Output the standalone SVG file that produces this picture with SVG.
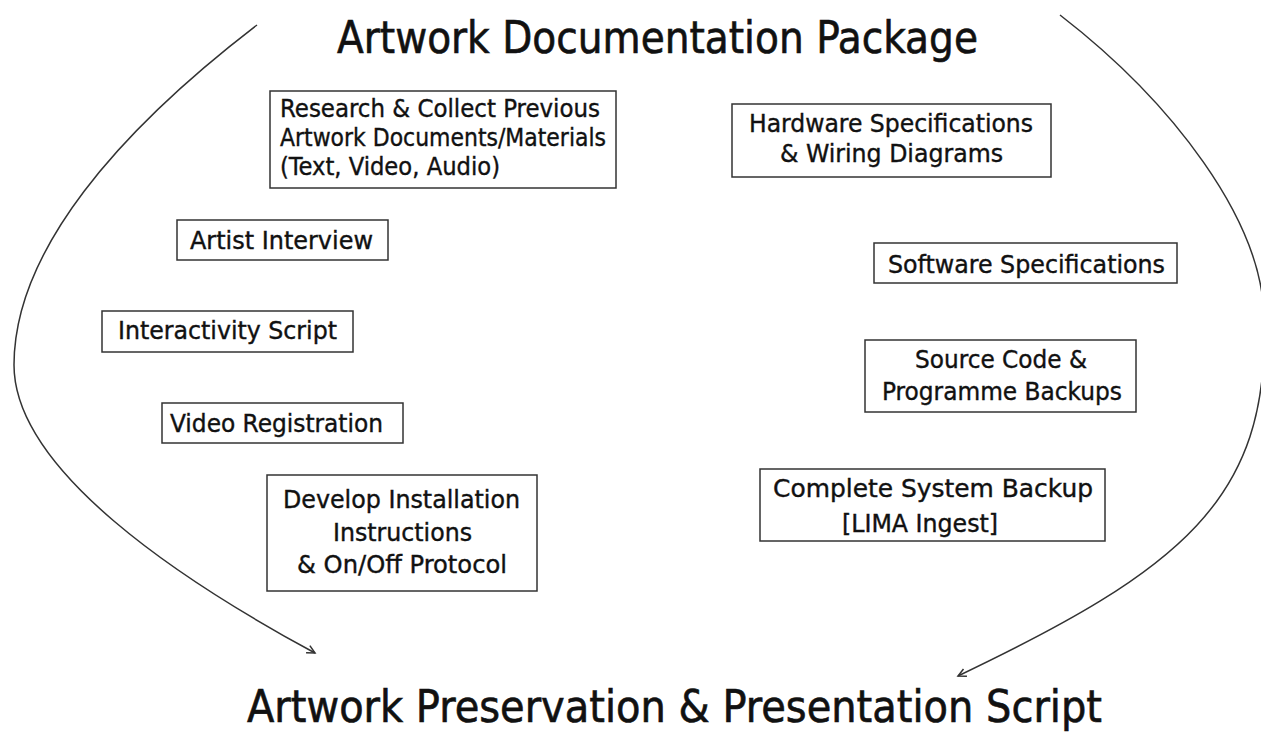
<svg xmlns="http://www.w3.org/2000/svg" width="1261" height="733" viewBox="0 0 1261 733">
  <style>
    .title { font-family: "DejaVu Sans Condensed", "DejaVu Sans", sans-serif; font-size: 45px; fill: #111; stroke: #111; stroke-width: 0.6; }
    .label { font-family: "DejaVu Sans Condensed", "DejaVu Sans", sans-serif; font-size: 24px; fill: #111; stroke: #111; stroke-width: 0.35; }
    .box { fill: #fff; stroke: #333; stroke-width: 1.5; }
    .flow { fill: none; stroke: #333; stroke-width: 1.5; }
  </style>
  <defs>
    <marker id="chevron" markerUnits="userSpaceOnUse" markerWidth="12" markerHeight="12" refX="9" refY="5" orient="auto">
      <path d="M1,1 L9,5 L1,9" fill="none" stroke="#333" stroke-width="1.5"/>
    </marker>
  </defs>

  <rect width="1261" height="733" fill="#fff"/>

  <!-- headings -->
  <g id="package-title">
    <text class="title" x="337" y="53" textLength="641" lengthAdjust="spacingAndGlyphs">Artwork Documentation Package</text>
  </g>
  <g id="script-title">
    <text class="title" x="247" y="722" textLength="855" lengthAdjust="spacingAndGlyphs">Artwork Preservation &amp; Presentation Script</text>
  </g>

  <!-- sweeping arrows from the package to the script -->
  <g id="connectors">
    <path class="flow" d="M257,25 C120,130 14,250 14,365 C14,470 180,580 315,653" marker-end="url(#chevron)"/>
    <path class="flow" d="M1060,15 C1170,100 1264,220 1264,320 C1270,500 1180,570 958,676" marker-end="url(#chevron)"/>
  </g>

  <!-- left column -->
  <g id="research">
    <rect class="box" x="270" y="91" width="346" height="97"/>
    <text class="label" x="280" y="117" textLength="320" lengthAdjust="spacingAndGlyphs">Research &amp; Collect Previous</text>
    <text class="label" x="280" y="146" textLength="326" lengthAdjust="spacingAndGlyphs">Artwork Documents/Materials</text>
    <text class="label" x="280" y="175" textLength="220" lengthAdjust="spacingAndGlyphs">(Text, Video, Audio)</text>
  </g>
  <g id="artist-interview">
    <rect class="box" x="177" y="220" width="211" height="40"/>
    <text class="label" x="190" y="249" textLength="183" lengthAdjust="spacingAndGlyphs">Artist Interview</text>
  </g>
  <g id="interactivity-script">
    <rect class="box" x="102" y="311" width="251" height="41"/>
    <text class="label" x="118" y="339" textLength="219" lengthAdjust="spacingAndGlyphs">Interactivity Script</text>
  </g>
  <g id="video-registration">
    <rect class="box" x="162" y="403" width="241" height="40"/>
    <text class="label" x="170" y="432" textLength="213" lengthAdjust="spacingAndGlyphs">Video Registration</text>
  </g>
  <g id="installation">
    <rect class="box" x="267" y="475" width="270" height="116"/>
    <text class="label" x="283" y="508" textLength="237" lengthAdjust="spacingAndGlyphs">Develop Installation</text>
    <text class="label" x="333" y="541" textLength="139" lengthAdjust="spacingAndGlyphs">Instructions</text>
    <text class="label" x="297" y="573" textLength="210" lengthAdjust="spacingAndGlyphs">&amp; On/Off Protocol</text>
  </g>

  <!-- right column -->
  <g id="hardware">
    <rect class="box" x="732" y="104" width="319" height="73"/>
    <text class="label" x="749" y="132" textLength="284" lengthAdjust="spacingAndGlyphs">Hardware Specifications</text>
    <text class="label" x="780" y="162" textLength="223" lengthAdjust="spacingAndGlyphs">&amp; Wiring Diagrams</text>
  </g>
  <g id="software">
    <rect class="box" x="874" y="243" width="303" height="40"/>
    <text class="label" x="888" y="273" textLength="277" lengthAdjust="spacingAndGlyphs">Software Specifications</text>
  </g>
  <g id="source-code">
    <rect class="box" x="865" y="340" width="271" height="72"/>
    <text class="label" x="915" y="368" textLength="172" lengthAdjust="spacingAndGlyphs">Source Code &amp;</text>
    <text class="label" x="882" y="400" textLength="240" lengthAdjust="spacingAndGlyphs">Programme Backups</text>
  </g>
  <g id="system-backup">
    <rect class="box" x="760" y="469" width="345" height="72"/>
    <text class="label" x="773" y="497" textLength="320" lengthAdjust="spacingAndGlyphs">Complete System Backup</text>
    <text class="label" x="842" y="532" textLength="156" lengthAdjust="spacingAndGlyphs">[LIMA Ingest]</text>
  </g>
</svg>
